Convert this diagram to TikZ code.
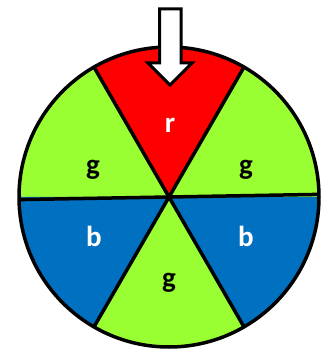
\documentclass[tikz,border=0pt]{standalone}
\usepackage{fontspec}
\setmainfont{Carlito}
\definecolor{wred}{HTML}{FF0000}
\definecolor{wgreen}{HTML}{99FF33}
\definecolor{wblue}{HTML}{0070C0}
\tikzset{
  lbl/.style={font=\fontsize{29}{29}\selectfont\bfseries, anchor=base, inner sep=0pt},
  divider/.style={line width=3.5pt, black},
}
\begin{document}
\begin{tikzpicture}[x=1pt,y=1pt]
\useasboundingbox (0,0) rectangle (321,351);
\coordinate (c) at (169,154);
\def\R{150pt}
% sectors
\fill[wgreen] (c) -- +(0:\R) arc[start angle=0,end angle=60,radius=\R] -- cycle;
\fill[wred]   (c) -- +(60:\R) arc[start angle=60,end angle=120,radius=\R] -- cycle;
\fill[wgreen] (c) -- +(120:\R) arc[start angle=120,end angle=180,radius=\R] -- cycle;
\fill[wblue]  (c) -- +(180:\R) arc[start angle=180,end angle=240,radius=\R] -- cycle;
\fill[wgreen] (c) -- +(240:\R) arc[start angle=240,end angle=300,radius=\R] -- cycle;
\fill[wblue]  (c) -- +(300:\R) arc[start angle=300,end angle=360,radius=\R] -- cycle;
% dividers
\draw[divider] (c) ++(1:\R) coordinate (e0) -- (c) -- ++(181:\R) coordinate (e180);
\draw[divider] (c) ++(60:\R) coordinate (e60) -- (c) -- ++(240:\R) coordinate (e240);
\draw[divider] (c) ++(120:\R) coordinate (e120) -- (c) -- ++(300:\R) coordinate (e300);
\draw[line width=3.5pt] (c) circle[radius=\R];
% arrow
\draw[line width=3pt, fill=white, line join=miter]
  (159.5,342) -- (181,342) -- (181,288) -- (192,288) -- (170,266) -- (148,288) -- (159.5,288) -- cycle;
% labels
\node[lbl, text=white] (r)  at (170,218) {r};
\node[lbl] (g1) at (93,176) {g};
\node[lbl] (g2) at (246,176) {g};
\node[lbl, text=white] (b1) at (94,104) {b};
\node[lbl, text=white] (b2) at (246,104) {b};
\node[lbl] (g3) at (169,63) {g};
\end{tikzpicture}
\end{document}
